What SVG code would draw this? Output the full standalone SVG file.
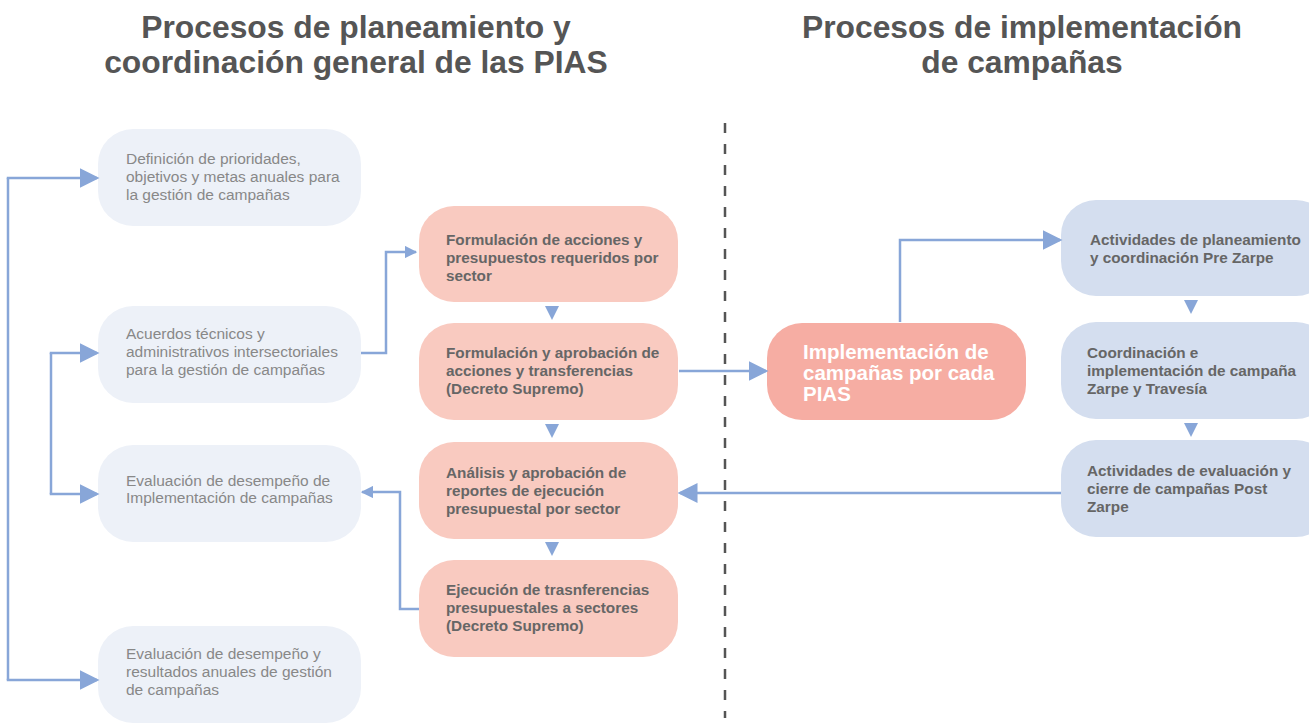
<svg xmlns="http://www.w3.org/2000/svg" width="1309" height="723" viewBox="0 0 1309 723">
<style>
.title{font-family:"Liberation Sans",Arial,sans-serif;font-weight:bold;font-size:31.8px;fill:#555555;text-anchor:middle}
.lt{font-family:"Liberation Sans",Arial,sans-serif;font-size:15.5px;fill:#888888}
.pt{font-family:"Liberation Sans",Arial,sans-serif;font-weight:bold;font-size:15.3px;fill:#666666}
.ct{font-family:"Liberation Sans",Arial,sans-serif;font-weight:bold;font-size:20.5px;fill:#ffffff}
.lbox{fill:#EDF1F8}
.pbox{fill:#F9CAC0}
.cbox{fill:#F6ADA3}
.rbox{fill:#D4DEEF}
.con{fill:none;stroke:#88A6D8;stroke-width:2.5}
.tri{fill:#88A6D8}
</style>
<defs>
<marker id="big" markerWidth="8" markerHeight="8" refX="7" refY="4" orient="auto" markerUnits="strokeWidth" viewBox="0 0 8 8">
<path d="M0,0 L8,4 L0,8 Z" fill="#88A6D8"/>
</marker>
<marker id="small" markerWidth="5" markerHeight="5" refX="4.5" refY="2.5" orient="auto" markerUnits="strokeWidth" viewBox="0 0 5 5">
<path d="M0,0 L5,2.5 L0,5 Z" fill="#88A6D8"/>
</marker>
</defs>

<text class="title" x="356" y="38">Procesos de planeamiento y</text>
<text class="title" x="356" y="73">coordinación general de las PIAS</text>
<text class="title" x="1022" y="38">Procesos de implementación</text>
<text class="title" x="1022" y="73">de campañas</text>

<line x1="725" y1="123" x2="725" y2="718" stroke="#555555" stroke-width="2.5" stroke-dasharray="10 11"/>

<g id="l1"><rect class="lbox" x="98" y="129" width="263" height="97" rx="35"/>
<text class="lt" x="126" y="164">Definición de prioridades,</text>
<text class="lt" x="126" y="182">objetivos y metas anuales para</text>
<text class="lt" x="126" y="200">la gestión de campañas</text></g>

<g id="l2"><rect class="lbox" x="98" y="306" width="263" height="97" rx="35"/>
<text class="lt" x="126" y="339">Acuerdos técnicos y</text>
<text class="lt" x="126" y="357">administrativos intersectoriales</text>
<text class="lt" x="126" y="375">para la gestión de campañas</text></g>

<g id="l3"><rect class="lbox" x="98" y="445" width="263" height="97" rx="35"/>
<text class="lt" x="126" y="486">Evaluación de desempeño de</text>
<text class="lt" x="126" y="503">Implementación de campañas</text></g>

<g id="l4"><rect class="lbox" x="98" y="626" width="263" height="97" rx="35"/>
<text class="lt" x="126" y="659">Evaluación de desempeño y</text>
<text class="lt" x="126" y="677">resultados anuales de gestión</text>
<text class="lt" x="126" y="695">de campañas</text></g>

<g id="pA"><rect class="pbox" x="419" y="206" width="259" height="96" rx="35"/>
<text class="pt" x="446" y="245">Formulación de acciones y</text>
<text class="pt" x="446" y="263">presupuestos requeridos por</text>
<text class="pt" x="446" y="281">sector</text></g>

<g id="pB"><rect class="pbox" x="419" y="323" width="259" height="97" rx="35"/>
<text class="pt" x="446" y="358">Formulación y aprobación de</text>
<text class="pt" x="446" y="376">acciones y transferencias</text>
<text class="pt" x="446" y="394">(Decreto Supremo)</text></g>

<g id="pC"><rect class="pbox" x="419" y="442" width="259" height="97" rx="35"/>
<text class="pt" x="446" y="478">Análisis y aprobación de</text>
<text class="pt" x="446" y="496">reportes de ejecución</text>
<text class="pt" x="446" y="514">presupuestal por sector</text></g>

<g id="pD"><rect class="pbox" x="419" y="560" width="259" height="97" rx="35"/>
<text class="pt" x="446" y="595">Ejecución de trasnferencias</text>
<text class="pt" x="446" y="613">presupuestales a sectores</text>
<text class="pt" x="446" y="631">(Decreto Supremo)</text></g>

<g id="center"><rect class="cbox" x="767" y="323" width="259" height="97" rx="35"/>
<text class="ct" x="803" y="359">Implementación de</text>
<text class="ct" x="803" y="380">campañas por cada</text>
<text class="ct" x="803" y="401">PIAS</text></g>

<g id="r1"><rect class="rbox" x="1061" y="200" width="270" height="96" rx="35"/>
<text class="pt" x="1090" y="245">Actividades de planeamiento</text>
<text class="pt" x="1090" y="263">y coordinación Pre Zarpe</text></g>

<g id="r2"><rect class="rbox" x="1061" y="322" width="270" height="97" rx="35"/>
<text class="pt" x="1087" y="358">Coordinación e</text>
<text class="pt" x="1087" y="376">implementación de campaña</text>
<text class="pt" x="1087" y="394">Zarpe y Travesía</text></g>

<g id="r3"><rect class="rbox" x="1061" y="440" width="270" height="97" rx="35"/>
<text class="pt" x="1087" y="476">Actividades de evaluación y</text>
<text class="pt" x="1087" y="494">cierre de campañas Post</text>
<text class="pt" x="1087" y="512">Zarpe</text></g>

<g id="connectors">
<polyline class="con" points="361,353 386,353 386,252 416,252" marker-end="url(#small)"/>
<polyline class="con" points="8,178 8,680"/>
<line class="con" x1="6.75" y1="178" x2="97" y2="178" marker-end="url(#big)"/>
<line class="con" x1="6.75" y1="680" x2="97" y2="680" marker-end="url(#big)"/>
<polyline class="con" points="51,353 51,494"/>
<line class="con" x1="49.75" y1="353" x2="97" y2="353" marker-end="url(#big)"/>
<line class="con" x1="49.75" y1="494" x2="97" y2="494" marker-end="url(#big)"/>
<polyline class="con" points="419,609 400,609 400,492 362,492" marker-end="url(#small)"/>
<line class="con" x1="679" y1="371" x2="766" y2="371" marker-end="url(#big)"/>
<polyline class="con" points="900,322 900,240 1060,240" marker-end="url(#big)"/>
<line class="con" x1="1061" y1="493" x2="680" y2="493" marker-end="url(#big)"/>
<path class="tri" d="M545,306 L559,306 L552,320 Z"/>
<path class="tri" d="M545,424 L559,424 L552,438 Z"/>
<path class="tri" d="M545,542 L559,542 L552,556 Z"/>
<path class="tri" d="M1184,300 L1198,300 L1191,314 Z"/>
<path class="tri" d="M1184,423 L1198,423 L1191,437 Z"/>
</g>
</svg>
